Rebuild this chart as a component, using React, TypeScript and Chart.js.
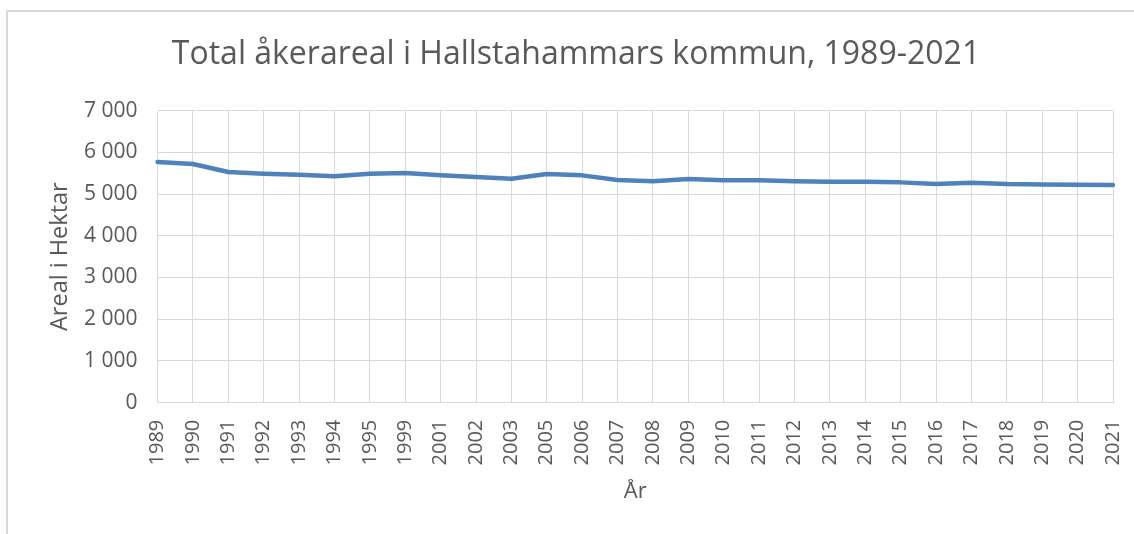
import React, { useEffect, useRef } from "react";
import { Chart, registerables } from "chart.js";

Chart.register(...registerables);

const years: string[] = [
  "1989", "1990", "1991", "1992", "1993", "1994", "1995", "1999", "2001", "2002",
  "2003", "2005", "2006", "2007", "2008", "2009", "2010", "2011", "2012", "2013",
  "2014", "2015", "2016", "2017", "2018", "2019", "2020", "2021",
];

const arealHektar: number[] = [
  5770, 5720, 5527, 5487, 5463, 5424, 5487, 5504, 5448, 5408,
  5367, 5480, 5448, 5336, 5305, 5360, 5328, 5328, 5305, 5295,
  5295, 5280, 5240, 5270, 5240, 5232, 5225, 5216,
];

const titleText = "Total åkerareal i Hallstahammars kommun, 1989-2021";
const yTitle = "Areal i Hektar";
const xTitle = "År";

const TEXT = "#595959";
const GRID = "#d9d9d9";
const FONT = "'Open Sans'";

function fmt(v: number): string {
  const s = String(Math.round(v));
  return s.replace(/\B(?=(\d{3})+(?!\d))/g, " ");
}

export default function App() {
  const ref = useRef<HTMLCanvasElement | null>(null);

  useEffect(() => {
    if (!ref.current) return;
    const chart = new Chart(ref.current, {
      type: "line",
      data: {
        labels: years,
        datasets: [
          {
            data: arealHektar,
            borderColor: "#4F81BD",
            backgroundColor: "#4F81BD",
            borderWidth: 4.5,
            pointRadius: 0,
            pointHoverRadius: 0,
            tension: 0,
            borderJoinStyle: "round",
            borderCapStyle: "round",
            fill: false,
          },
        ],
      },
      options: {
        animation: false,
        responsive: false,
        maintainAspectRatio: false,
        layout: { padding: { left: 39, right: 21, top: 0, bottom: 0 } },
        plugins: {
          legend: { display: false },
          tooltip: { enabled: false },
          title: {
            display: true,
            text: titleText,
            color: TEXT,
            font: { family: FONT, size: 32, weight: "normal" },
            padding: { top: 35.8, bottom: 36.4 },
          },
        },
        scales: {
          x: {
            type: "category",
            offset: false,
            grid: { color: GRID, lineWidth: 1, drawTicks: false, offset: false },
            border: { display: true, color: GRID, width: 1 },
            ticks: {
              color: TEXT,
              font: { family: FONT, size: 20 },
              minRotation: 90,
              maxRotation: 90,
              autoSkip: false,
              padding: 17,
            },
            title: {
              display: true,
              text: xTitle,
              color: TEXT,
              font: { family: FONT, size: 22 },
              padding: { top: 0, bottom: 28.8 },
            },
            afterFit: (scale: any) => {
              scale.height = 131.3;
              scale.paddingLeft = 0;
              scale.paddingRight = 0;
            },
          },
          y: {
            min: 0,
            max: 7000,
            grid: { color: GRID, lineWidth: 1, drawTicks: false },
            border: { display: false },
            ticks: {
              stepSize: 1000,
              color: TEXT,
              font: { family: FONT, size: 21 },
              padding: 20,
              callback: (v: any) => fmt(Number(v)),
            },
            title: {
              display: true,
              text: yTitle,
              color: TEXT,
              font: { family: FONT, size: 23.5 },
              padding: { top: 6.9, bottom: 0 },
            },
            afterFit: (scale: any) => {
              scale.width = 118.5;
              scale.paddingTop = 0;
              scale.paddingBottom = 0;
            },
          },
        },
      },
    });
    return () => chart.destroy();
  }, []);

  return (
    <div
      style={{
        position: "fixed",
        left: 0,
        top: 0,
        width: 1134,
        height: 534,
        overflow: "hidden",
        background: "#ffffff",
      }}
    >
      <div
        style={{
          position: "absolute",
          left: 6,
          top: 10,
          width: 1300,
          height: 700,
          border: `2px solid ${GRID}`,
          boxSizing: "border-box",
        }}
      />
      <canvas
        ref={ref}
        width={1134}
        height={534}
        style={{ position: "absolute", left: 0, top: 0, width: 1134, height: 534 }}
      />
    </div>
  );
}
